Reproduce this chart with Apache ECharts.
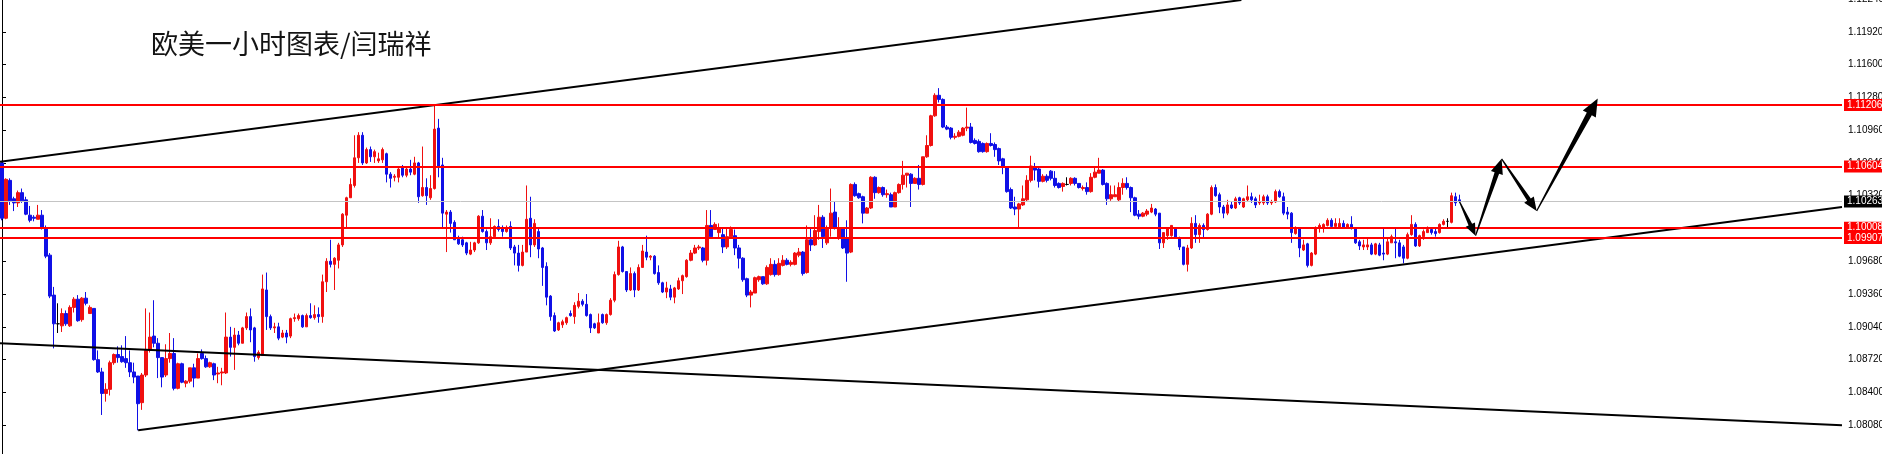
<!DOCTYPE html>
<html>
<head>
<meta charset="utf-8">
<script src="https://cdn.jsdelivr.net/npm/echarts@6/dist/echarts.min.js"></script>
<style>
html,body{margin:0;padding:0;background:#fff;}
#chart{width:1882px;height:454px;}
</style>
</head>
<body>
<div id="chart"></div>
<script>
// ---- data (EUR/USD, 1 hour) ----
const title = '欧美一小时图表/闫瑞祥';
const opens = [1.1064,1.1010,1.1047,1.1029,1.1025,1.1035,1.1028,1.1013,1.1011,1.1009,
1.1013,1.1000,1.0974,1.0935,1.0907,1.0905,1.0917,1.0905,1.0923,1.0931,
1.0911,1.0932,1.0917,1.0922,1.0872,1.0860,1.0839,1.0843,1.0869,1.0877,
1.0875,1.0873,1.0869,1.0860,1.0856,1.0830,1.0857,1.0881,1.0895,1.0888,
1.0874,1.0857,1.0873,1.0878,1.0844,1.0868,1.0849,1.0851,1.0864,1.0854,
1.0878,1.0873,1.0865,1.0868,1.0858,1.0859,1.0859,1.0894,1.0884,1.0896,
1.0888,1.0903,1.0914,1.0903,1.0874,1.0876,1.0940,1.0914,1.0903,1.0904,
1.0894,1.0898,1.0895,1.0912,1.0912,1.0915,1.0904,1.0915,1.0913,1.0916,
1.0914,1.0948,1.0968,1.0965,1.0969,1.0984,1.1013,1.1030,1.1042,1.1069,
1.1091,1.1064,1.1077,1.1070,1.1066,1.1067,1.1073,1.1053,1.1050,1.1050,
1.1059,1.1052,1.1058,1.1053,1.1064,1.1032,1.1040,1.1030,1.1039,1.1098,
1.1062,1.1014,1.1016,1.1006,1.0991,1.0989,1.0986,1.0975,1.0979,1.0986,
1.1012,1.0997,1.0986,1.0992,1.1002,1.1001,1.0997,1.1002,1.0982,1.0976,
1.0964,1.0977,1.1010,1.0984,1.0997,1.0981,1.0963,1.0934,1.0915,1.0901,
1.0906,1.0908,1.0917,1.0914,1.0924,1.0929,1.0926,1.0916,1.0907,1.0898,
1.0916,1.0908,1.0916,1.0930,1.0955,1.0982,1.0958,1.0940,1.0956,1.0940,
1.0962,1.0977,1.0972,1.0973,1.0957,1.0947,1.0938,1.0941,1.0933,1.0941,
1.0949,1.0953,1.0969,1.0976,1.0981,1.0981,1.0969,1.1003,1.0999,1.0996,
1.0994,1.0982,1.0992,1.0993,1.0981,1.0971,1.0951,1.0935,1.0937,1.0950,
1.0953,1.0946,1.0955,1.0965,1.0955,1.0964,1.0969,1.0965,1.0965,1.0974,
1.0977,1.0957,1.0989,1.0984,1.0997,1.1011,1.0986,1.1000,1.1016,1.0991,
1.1000,1.0991,1.0977,1.1043,1.1034,1.1031,1.1015,1.1020,1.1050,1.1035,
1.1040,1.1033,1.1033,1.1021,1.1035,1.1043,1.1052,1.1053,1.1044,1.1049,
1.1043,1.1070,1.1081,1.1110,1.1130,1.1126,1.1099,1.1098,1.1089,1.1090,
1.1091,1.1098,1.1099,1.1086,1.1085,1.1083,1.1075,1.1083,1.1082,1.1078,
1.1068,1.1060,1.1038,1.1021,1.1019,1.1023,1.1028,1.1047,1.1060,1.1058,
1.1046,1.1051,1.1056,1.1049,1.1044,1.1041,1.1043,1.1044,1.1049,1.1044,
1.1039,1.1040,1.1036,1.1050,1.1054,1.1057,1.1044,1.1029,1.1031,1.1028,
1.1040,1.1044,1.1040,1.1030,1.1014,1.1012,1.1014,1.1016,1.1019,1.1015,
1.0986,1.0993,1.0993,1.1000,1.0991,1.0982,1.0965,1.0981,1.1005,1.0994,
1.1003,1.0999,1.1014,1.1040,1.1033,1.1021,1.1015,1.1023,1.1020,1.1030,
1.1021,1.1028,1.1031,1.1029,1.1025,1.1025,1.1031,1.1025,1.1026,1.1036,
1.1031,1.1016,1.1015,1.0995,1.1000,1.0979,1.0985,1.0964,1.0975,1.1001,
1.1001,1.1003,1.1008,1.1002,1.1001,1.1005,1.1001,1.1004,1.1000,1.0987,
1.0982,1.0982,1.0984,1.0975,1.0984,1.0976,1.0975,1.0986,1.0987,1.0986,
1.0982,1.0971,1.0994,1.1004,1.0983,1.0992,1.0996,1.0999,1.0997,1.0996,
1.1004,1.1007,1.1006,1.1031,1.1028];
const closes = [1.1010,1.1048,1.1027,1.1025,1.1035,1.1027,1.1014,1.1008,1.1010,1.1013,
1.1000,1.0973,1.0934,1.0907,1.0907,1.0917,1.0907,1.0923,1.0931,1.0910,
1.0932,1.0927,1.0923,1.0872,1.0860,1.0839,1.0843,1.0869,1.0877,1.0874,
1.0870,1.0869,1.0860,1.0855,1.0829,1.0857,1.0881,1.0894,1.0888,1.0874,
1.0855,1.0873,1.0878,1.0844,1.0868,1.0850,1.0851,1.0864,1.0854,1.0873,
1.0873,1.0865,1.0869,1.0857,1.0859,1.0860,1.0894,1.0884,1.0896,1.0888,
1.0903,1.0914,1.0901,1.0875,1.0879,1.0941,1.0914,1.0903,1.0904,1.0893,
1.0898,1.0894,1.0912,1.0913,1.0915,1.0904,1.0915,1.0913,1.0916,1.0914,
1.0948,1.0968,1.0965,1.0971,1.0984,1.1014,1.1030,1.1043,1.1069,1.1091,
1.1064,1.1077,1.1070,1.1075,1.1068,1.1077,1.1053,1.1049,1.1051,1.1058,
1.1052,1.1058,1.1055,1.1064,1.1031,1.1040,1.1032,1.1039,1.1097,1.1060,
1.1015,1.1016,1.1005,1.0989,1.0985,1.0984,1.0976,1.0979,1.0986,1.1012,
1.0997,1.0986,1.0992,1.1002,1.0999,1.0997,1.1001,1.0981,1.0976,1.0964,
1.0977,1.1009,1.0984,1.1005,1.0980,1.0962,1.0933,1.0914,1.0900,1.0908,
1.0909,1.0913,1.0915,1.0925,1.0929,1.0926,1.0915,1.0903,1.0903,1.0908,
1.0908,1.0916,1.0930,1.0955,1.0982,1.0958,1.0940,1.0956,1.0940,1.0962,
1.0978,1.0972,1.0973,1.0956,1.0947,1.0938,1.0942,1.0933,1.0942,1.0949,
1.0954,1.0969,1.0976,1.0981,1.0982,1.0969,1.1003,1.0992,1.1004,1.1001,
1.0982,1.0992,1.0999,1.0981,1.0971,1.0950,1.0935,1.0938,1.0952,1.0953,
1.0946,1.0962,1.0965,1.0955,1.0966,1.0969,1.0965,1.0967,1.0976,1.0977,
1.0956,1.0989,1.0984,1.0998,1.1011,1.0992,1.1000,1.1015,1.1000,1.1000,
1.0981,1.0976,1.1043,1.1032,1.1030,1.1015,1.1020,1.1050,1.1035,1.1040,
1.1033,1.1034,1.1021,1.1035,1.1043,1.1052,1.1054,1.1044,1.1049,1.1043,
1.1070,1.1081,1.1110,1.1130,1.1126,1.1099,1.1097,1.1089,1.1090,1.1094,
1.1098,1.1099,1.1084,1.1083,1.1075,1.1075,1.1083,1.1081,1.1077,1.1066,
1.1060,1.1036,1.1020,1.1019,1.1024,1.1029,1.1047,1.1061,1.1057,1.1046,
1.1051,1.1047,1.1049,1.1042,1.1040,1.1044,1.1043,1.1049,1.1044,1.1040,
1.1040,1.1036,1.1050,1.1055,1.1057,1.1043,1.1029,1.1033,1.1033,1.1040,
1.1044,1.1040,1.1030,1.1013,1.1012,1.1015,1.1017,1.1020,1.1014,1.0986,
1.0996,1.1000,1.1003,1.0991,1.0982,1.0965,1.0981,1.1005,1.0994,1.1003,
1.0999,1.1014,1.1040,1.1032,1.1021,1.1015,1.1023,1.1020,1.1029,1.1025,
1.1029,1.1031,1.1028,1.1023,1.1026,1.1031,1.1025,1.1026,1.1036,1.1031,
1.1015,1.1014,1.0996,1.1001,1.0981,1.0984,1.0964,1.0976,1.1001,1.1003,
1.1004,1.1008,1.1002,1.1005,1.1005,1.1001,1.1004,1.1000,1.0986,1.0983,
1.0984,1.0984,1.0975,1.0985,1.0974,1.0975,1.0987,1.0992,1.0986,1.0973,
1.0971,1.0994,1.1004,1.0983,1.0993,1.0997,1.0999,1.0996,1.0995,1.1004,
1.1007,1.1007,1.1032,1.1025,1.10263];
const lows = [1.1008,1.1009,1.1023,1.1017,1.1021,1.1025,1.1013,1.1006,1.1007,1.1009,
1.0999,1.0971,1.0932,1.0883,1.0898,1.0899,1.0905,1.0904,1.0918,1.0909,
1.0909,1.0925,1.0917,1.0871,1.0859,1.0818,1.0831,1.0837,1.0867,1.0869,
1.0869,1.0864,1.0855,1.0849,1.0803,1.0823,1.0855,1.0879,1.0884,1.0854,
1.0845,1.0855,1.0869,1.0842,1.0843,1.0849,1.0845,1.0849,1.0845,1.0854,
1.0872,1.0864,1.0864,1.0852,1.0849,1.0847,1.0858,1.0875,1.0862,1.0886,
1.0888,1.0901,1.0889,1.0870,1.0872,1.0876,1.0901,1.0901,1.0898,1.0891,
1.0893,1.0888,1.0893,1.0909,1.0910,1.0903,1.0904,1.0912,1.0911,1.0908,
1.0908,1.0938,1.0962,1.0940,1.0961,1.0982,1.1001,1.1030,1.1040,1.1064,
1.1062,1.1063,1.1065,1.1064,1.1064,1.1064,1.1045,1.1040,1.1046,1.1045,
1.1050,1.1050,1.1052,1.1052,1.1025,1.1031,1.1023,1.1028,1.1038,1.1050,
1.1001,1.0977,1.0996,1.0989,1.0984,1.0982,1.0974,1.0974,1.0977,1.0985,
1.0996,1.0979,1.0984,1.0991,1.0997,1.0992,1.0996,1.0979,1.0964,1.0958,
1.0963,1.0977,1.0972,1.0982,1.0971,1.0944,1.0925,1.0910,1.0899,1.0900,
1.0903,1.0906,1.0914,1.0907,1.0922,1.0924,1.0914,1.0898,1.0902,1.0898,
1.0907,1.0906,1.0915,1.0928,1.0954,1.0957,1.0938,1.0939,1.0933,1.0939,
1.0962,1.0969,1.0969,1.0955,1.0945,1.0937,1.0932,1.0930,1.0927,1.0940,
1.0936,1.0952,1.0968,1.0975,1.0979,1.0967,1.0964,1.0992,1.0999,1.0991,
1.0976,1.0980,1.0992,1.0974,1.0961,1.0948,1.0933,1.0923,1.0937,1.0948,
1.0945,1.0945,1.0954,1.0953,1.0954,1.0963,1.0964,1.0963,1.0964,1.0972,
1.0954,1.0956,1.0978,1.0983,1.0989,1.0981,1.0984,1.0992,1.0999,1.0989,
1.0980,1.0948,1.0976,1.1031,1.1029,1.1005,1.1015,1.1019,1.1029,1.1034,
1.1031,1.1030,1.1021,1.1021,1.1034,1.1038,1.1040,1.1021,1.1044,1.1038,
1.1042,1.1069,1.1080,1.1109,1.1123,1.1098,1.1096,1.1087,1.1087,1.1089,
1.1090,1.1095,1.1083,1.1082,1.1074,1.1074,1.1074,1.1080,1.1070,1.1062,
1.1053,1.1035,1.1019,1.1013,1.1001,1.1022,1.1026,1.1045,1.1047,1.1040,
1.1045,1.1045,1.1047,1.1040,1.1039,1.1036,1.1042,1.1042,1.1042,1.1039,
1.1037,1.1033,1.1035,1.1049,1.1054,1.1042,1.1023,1.1027,1.1031,1.1026,
1.1033,1.1038,1.1016,1.1012,1.1009,1.1011,1.1012,1.1015,1.1012,1.0980,
1.0981,1.0989,1.0992,1.0990,1.0979,1.0964,1.0958,1.0980,1.0986,1.0986,
1.0991,1.0998,1.1013,1.1031,1.1015,1.1010,1.1013,1.1019,1.1019,1.1023,
1.1020,1.1026,1.1025,1.1020,1.1023,1.1023,1.1023,1.1023,1.1025,1.1030,
1.1013,1.1009,1.0986,1.0994,1.0972,1.0978,1.0962,1.0963,1.0974,1.0996,
1.0996,1.1002,1.1001,1.1001,1.1000,1.1000,1.1000,1.0999,1.0985,1.0979,
1.0979,1.0979,1.0974,1.0974,1.0973,1.0969,1.0974,1.0986,1.0971,1.0972,
1.0966,1.0970,1.0993,1.0982,1.0982,1.0989,1.0996,1.0994,1.0992,1.0995,
1.1003,1.1001,1.1005,1.1022,1.1025];
const highs = [1.1066,1.1049,1.1049,1.1031,1.1037,1.1039,1.1031,1.1022,1.1013,1.1023,
1.1018,1.1003,1.0976,1.0943,1.0927,1.0922,1.0920,1.0925,1.0933,1.0935,
1.0933,1.0938,1.0925,1.0922,1.0881,1.0864,1.0849,1.0871,1.0878,1.0885,
1.0886,1.0895,1.0881,1.0869,1.0856,1.0859,1.0922,1.0918,1.0930,1.0893,
1.0874,1.0887,1.0898,1.0893,1.0869,1.0869,1.0852,1.0864,1.0868,1.0878,
1.0882,1.0876,1.0870,1.0869,1.0865,1.0864,1.0918,1.0904,1.0903,1.0900,
1.0904,1.0918,1.0922,1.0904,1.0881,1.0955,1.0957,1.0916,1.0908,1.0908,
1.0901,1.0901,1.0913,1.0917,1.0917,1.0916,1.0917,1.0927,1.0925,1.0923,
1.0955,1.0971,1.0989,1.0972,1.0986,1.1015,1.1031,1.1049,1.1091,1.1094,
1.1094,1.1079,1.1080,1.1077,1.1074,1.1079,1.1074,1.1055,1.1053,1.1059,
1.1062,1.1060,1.1067,1.1070,1.1065,1.1080,1.1049,1.1052,1.1121,1.1107,
1.1069,1.1018,1.1018,1.1008,1.0993,1.0992,1.0987,1.0987,1.0987,1.1013,
1.1018,1.0999,1.1010,1.1003,1.1009,1.1003,1.1003,1.1007,1.0984,1.0984,
1.0984,1.1042,1.1031,1.1009,1.1000,1.0982,1.0967,1.0935,1.0918,1.0909,
1.0911,1.0914,1.0920,1.0928,1.0937,1.0931,1.0936,1.0917,1.0908,1.0917,
1.0917,1.0917,1.0932,1.0958,1.0988,1.0983,1.0958,1.0962,1.0958,1.0965,
1.0984,1.0993,1.0974,1.0974,1.0964,1.0948,1.0948,1.0945,1.0943,1.0952,
1.0955,1.0970,1.0979,1.0984,1.0984,1.0982,1.1018,1.1018,1.1006,1.1005,
1.1001,1.1001,1.1002,1.0999,1.0984,1.0972,1.0952,1.0940,1.0953,1.0954,
1.0953,1.0964,1.0971,1.0969,1.0971,1.0974,1.0971,1.0969,1.0977,1.0981,
1.0978,1.1003,1.1000,1.1013,1.1023,1.1013,1.1003,1.1039,1.1026,1.1011,
1.1001,1.1008,1.1044,1.1045,1.1035,1.1032,1.1021,1.1051,1.1051,1.1041,
1.1041,1.1038,1.1035,1.1036,1.1044,1.1066,1.1054,1.1054,1.1050,1.1062,
1.1070,1.1091,1.1111,1.1132,1.1137,1.1127,1.1101,1.1099,1.1093,1.1096,
1.1099,1.1118,1.1103,1.1088,1.1087,1.1084,1.1084,1.1093,1.1084,1.1079,
1.1069,1.1060,1.1040,1.1031,1.1025,1.1042,1.1052,1.1071,1.1064,1.1059,
1.1053,1.1053,1.1057,1.1056,1.1045,1.1045,1.1050,1.1050,1.1050,1.1044,
1.1042,1.1045,1.1054,1.1060,1.1069,1.1058,1.1045,1.1042,1.1042,1.1045,
1.1049,1.1050,1.1041,1.1031,1.1018,1.1016,1.1019,1.1024,1.1020,1.1015,
1.0996,1.1001,1.1003,1.1001,1.0992,1.0982,1.0984,1.1011,1.1013,1.1005,
1.1005,1.1015,1.1042,1.1043,1.1035,1.1023,1.1028,1.1026,1.1031,1.1031,
1.1030,1.1042,1.1035,1.1031,1.1033,1.1033,1.1033,1.1028,1.1038,1.1038,
1.1035,1.1021,1.1016,1.1002,1.1001,1.0989,1.0986,1.0977,1.1002,1.1005,
1.1005,1.1010,1.1010,1.1010,1.1010,1.1008,1.1005,1.1012,1.1001,1.0989,
1.0989,1.0991,1.0986,1.0986,1.0986,1.1000,1.0991,1.0994,1.1000,1.0989,
1.0984,1.0996,1.1013,1.1006,1.0994,1.0999,1.1002,1.0999,1.1000,1.1005,
1.1009,1.1010,1.1035,1.1035,1.1033];

// horizontal levels
const resistanceLevels = [1.11206, 1.10604, 1.10008, 1.09907];
const currentPrice = 1.10263;

// trend lines: [bar index, price] end points
const upperChannelIdx = [-1, 309.5];
const upperChannelPrice = [1.1065, 1.1223];
const lowerChannelIdx = [34, 459.5];
const lowerChannelPrice = [1.0803, 1.1021];
const fallingLineIdx = [-1, 459.5];
const fallingLinePrice = [1.0888, 1.0808];

// projected path (arrows): [bar index, price]
const pathIdx = [364, 368, 374.5, 383.25, 398.5];
const pathPrice = [1.1026, 1.0993, 1.1068, 1.1017, 1.1127];

// axis
const slotCount = 460;
const yMin = 1.0776, yMax = 1.1224, yStep = 0.0032;

// ---- build ----
const categories = Array.from({length: slotCount}, (_, i) => String(i));
const candles = opens.map((o, i) => [o, closes[i], lows[i], highs[i]]);
const pts = (xs, ys) => xs.map((x, i) => [x, ys[i]]);
const segments = [];
for (let i = 0; i < pathIdx.length - 1; i++) {
  segments.push([pathIdx[i], pathPrice[i], pathIdx[i + 1], pathPrice[i + 1]]);
}

const RED = '#f01010', BLUE = '#1010e6';
const axisFont = '"Liberation Sans", Arial, sans-serif';

function lineSeries(data) {
  return {
    type: 'line', xAxisIndex: 1, yAxisIndex: 0, data: data,
    symbol: 'none', silent: true, animation: false, z: 4,
    lineStyle: { color: '#000', width: 2 }
  };
}

function renderArrow(params, api) {
  const s = api.coord([api.value(0), api.value(1)]);
  const e = api.coord([api.value(2), api.value(3)]);
  const dx = e[0] - s[0], dy = e[1] - s[1];
  const len = Math.hypot(dx, dy);
  const ux = dx / len, uy = dy / len, nx = -uy, ny = ux;
  const head = 10 + len * 0.06;
  const hw = head * 0.42, w0 = 0.6, w1 = head * 0.16;
  const bx = e[0] - ux * head, by = e[1] - uy * head;
  const points = [
    [s[0] + nx * w0, s[1] + ny * w0],
    [bx + nx * w1, by + ny * w1],
    [bx + nx * hw, by + ny * hw],
    [e[0], e[1]],
    [bx - nx * hw, by - ny * hw],
    [bx - nx * w1, by - ny * w1],
    [s[0] - nx * w0, s[1] - ny * w0]
  ];
  return { type: 'polygon', shape: { points: points }, style: { fill: '#000' } };
}

const levelLabel = (bg) => ({
  show: true, position: 'end', distance: 2,
  formatter: (p) => Number(p.value).toFixed(5),
  backgroundColor: bg, color: '#fff', fontSize: 10, lineHeight: 12,
  fontFamily: axisFont, padding: [0, 3, 0, 3]
});

const chart = echarts.init(document.getElementById('chart'), null, { renderer: 'canvas' });
chart.setOption({
  animation: false,
  backgroundColor: '#fff',
  title: {
    text: title, left: 146, top: 25,
    textStyle: { fontSize: 27, fontWeight: 'normal', color: '#141414', fontFamily: '"Noto Sans CJK SC", sans-serif' }
  },
  grid: { left: 0, right: 40, top: -1, height: 459, containLabel: false, outerBoundsMode: 'none' },
  xAxis: [
    { type: 'category', data: categories, show: false, boundaryGap: true },
    { type: 'value', min: -0.5, max: slotCount - 0.5, show: false }
  ],
  yAxis: {
    type: 'value', position: 'right', min: yMin, max: yMax, interval: yStep, scale: true,
    axisLine: { show: true, lineStyle: { color: '#000', width: 1 } },
    axisTick: { show: true, length: 4, lineStyle: { color: '#000' } },
    splitLine: { show: false },
    axisLabel: { color: '#000', fontSize: 10, fontFamily: axisFont, margin: 6,
      showMinLabel: false,
      formatter: (v) => v.toFixed(5) }
  },
  series: [
    {
      type: 'candlestick', xAxisIndex: 0, yAxisIndex: 0, data: candles,
      barWidth: 3, z: 3,
      itemStyle: { color: RED, color0: BLUE, borderColor: RED, borderColor0: BLUE,
        borderColorDoji: '#000', borderWidth: 1 }
    },
    lineSeries(pts(upperChannelIdx, upperChannelPrice)),
    lineSeries(pts(lowerChannelIdx, lowerChannelPrice)),
    lineSeries(pts(fallingLineIdx, fallingLinePrice)),
    {
      type: 'line', xAxisIndex: 1, yAxisIndex: 0, data: [], silent: true, z: 2,
      markLine: {
        silent: true, symbol: ['none', 'none'], animation: false, precision: 5,
        data: [
          { yAxis: currentPrice, lineStyle: { color: '#c4c4c4', width: 1, type: 'solid' }, label: levelLabel('#000') }
        ]
      }
    },
    {
      type: 'line', xAxisIndex: 1, yAxisIndex: 0, data: [], silent: true, z: 5,
      markLine: {
        silent: true, symbol: ['none', 'none'], animation: false, precision: 5,
        lineStyle: { color: '#ff0000', width: 2, type: 'solid' },
        label: levelLabel('#ff0000'),
        data: resistanceLevels.map(v => ({ yAxis: v }))
      }
    },
    {
      type: 'custom', xAxisIndex: 1, yAxisIndex: 0, data: segments, z: 6,
      renderItem: renderArrow, silent: true,
      encode: { x: [0, 2], y: [1, 3] }
    }
  ]
});
</script>
</body>
</html>
